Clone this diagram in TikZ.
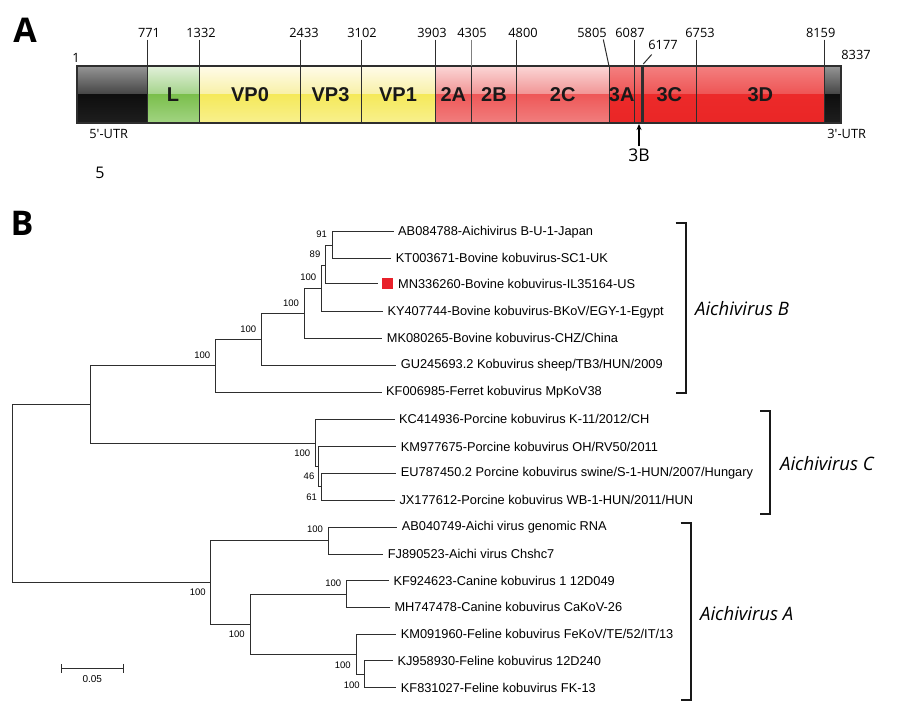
\documentclass[tikz,border=0pt]{standalone}
\usepackage{fontspec}
\setmainfont{Liberation Sans}
\newfontfamily\osans{Open Sans}
\usetikzlibrary{arrows.meta}
\definecolor{utrA}{HTML}{959595}
\definecolor{utrB}{HTML}{444444}
\definecolor{utrC}{HTML}{0E0E0E}
\definecolor{utrD}{HTML}{1E1E1E}
\definecolor{grA}{HTML}{E2F0DA}
\definecolor{grB}{HTML}{A4D38A}
\definecolor{grC}{HTML}{7BBF4C}
\definecolor{grD}{HTML}{A2D483}
\definecolor{yeA}{HTML}{FFFCEA}
\definecolor{yeB}{HTML}{F8F0A6}
\definecolor{yeC}{HTML}{F5E95A}
\definecolor{yeD}{HTML}{F8F08E}
\definecolor{pkA}{HTML}{FBD6D6}
\definecolor{pkB}{HTML}{F19494}
\definecolor{pkC}{HTML}{EE5858}
\definecolor{pkD}{HTML}{F17E7E}
\definecolor{rdA}{HTML}{F38080}
\definecolor{rdB}{HTML}{EE5454}
\definecolor{rdC}{HTML}{EC2A2A}
\definecolor{rdD}{HTML}{EA2626}
\definecolor{redmark}{HTML}{E8202A}
\definecolor{ink}{HTML}{2E2E2E}
\newcommand\gseg[6]{%
  \shade[top color=#3,bottom color=#4] (#1,66) rectangle (#2,94.5);
  \shade[top color=#5,bottom color=#6] (#1,94.5) rectangle (#2,123);}
\begin{document}
\begin{tikzpicture}[x=1pt,y=-1pt,
  tipl/.style={anchor=west,inner xsep=4.5pt,inner ysep=0pt,font=\fontsize{12.8}{14}\selectfont},
  bs/.style={font=\fontsize{9.5}{10}\selectfont,inner sep=0pt},
  brk/.style={line width=2.2pt,draw=black!90},
  branch/.style={line width=1pt,draw=ink},
  num/.style={font=\osans\fontsize{12.8}{14}\selectfont,inner sep=0pt},
  segl/.style={font=\bfseries\fontsize{20}{22}\selectfont,inner sep=0pt,text=black!90},
  clade/.style={font=\osans\itshape\fontsize{18.5}{20}\selectfont,anchor=west,inner sep=0pt},
  posline/.style={line width=1pt,draw=ink},
  panel/.style={font=\osans\bfseries\fontsize{34}{36}\selectfont,inner sep=0pt}]
\useasboundingbox (0,0) rectangle (900,710);
\fill[white] (0,0) rectangle (900,710);

% ---------------- Panel A ----------------
\node[panel] (pA) at (25,30) {A};
\gseg{77}{147}{utrA}{utrB}{utrC}{utrD}
\gseg{147}{199.3}{grA}{grB}{grC}{grD}
\gseg{199.3}{435}{yeA}{yeB}{yeC}{yeD}
\gseg{435}{609}{pkA}{pkB}{pkC}{pkD}
\gseg{609}{824.7}{rdA}{rdB}{rdC}{rdD}
\gseg{824.7}{841}{utrA}{utrB}{utrC}{utrD}
\draw[line width=1.3pt,draw=ink] (77,66) rectangle (841,123);
\foreach \x in {147,199.3,300,361,435,471.7,516.3,609,634.3,696,824.7}
  \draw[posline] (\x,66) -- (\x,123);
\draw[line width=2.6pt,draw=ink] (642.7,66) -- (642.7,123);
% position ticks above
\foreach \x in {147,199.3,300,361,435,516.3,634.3,696,824.7}
  \draw[posline] (\x,39.5) -- (\x,66);
\draw[posline,draw=black!50] (471.7,39.5) -- (471.7,66);
\draw[posline] (603.3,39.5) -- (609,66);
\draw[posline] (651.7,54.5) -- (643.3,64);
\node[num] (p1) at (76,58) {1};
\node[num] (p771) at (149,33) {771};
\node[num] (p1332) at (201,33) {1332};
\node[num] (p2433) at (304,33) {2433};
\node[num] (p3102) at (362,33) {3102};
\node[num] (p3903) at (432,33) {3903};
\node[num] (p4305) at (472,33) {4305};
\node[num] (p4800) at (523,33) {4800};
\node[num] (p5805) at (592,33) {5805};
\node[num] (p6087) at (630,33) {6087};
\node[num] (p6177) at (663,45) {6177};
\node[num] (p6753) at (700,33) {6753};
\node[num] (p8159) at (820.7,33) {8159};
\node[num] (p8337) at (856,55) {8337};
% segment labels
\node[segl] (sL) at (173,95) {L};
\node[segl] (sVP0) at (250,95) {VP0};
\node[segl] (sVP3) at (330.5,95) {VP3};
\node[segl] (sVP1) at (398,95) {VP1};
\node[segl] (s2A) at (453.3,95) {2A};
\node[segl] (s2B) at (494,95) {2B};
\node[segl] (s2C) at (562.7,95) {2C};
\node[segl] (s3A) at (621.7,95) {3A};
\node[segl] (s3C) at (669.3,95) {3C};
\node[segl] (s3D) at (760.3,95) {3D};
\node[num] (u5) at (108.7,133.5) {5'-UTR};
\node[num] (u3) at (846.7,133.5) {3'-UTR};
\node[font=\osans\fontsize{17.5}{19}\selectfont,inner sep=0pt] (l3B) at (639,155) {3B};
\coordinate (a3B) at (639,124);
\draw[line width=1.2pt,-{Stealth[length=6pt,width=5pt]}] (l3B.north) ++(0,-2) -- (a3B);
\node[font=\osans\fontsize{16}{18}\selectfont,inner sep=0pt] (five) at (100,173) {5};

% ---------------- Panel B ----------------
\node[panel] (pB) at (22,223) {B};
% tips
\node[tipl] (tAB) at (393.5,231.7) {AB084788-Aichivirus B-U-1-Japan};
\node[tipl] (tKT) at (391.2,258.3) {KT003671-Bovine kobuvirus-SC1-UK};
\node[fill=redmark,minimum size=11pt,inner sep=0pt,outer sep=4pt] (sq) at (387.5,283.8) {};
\node[tipl,inner xsep=1pt] (tMN) at (sq.east) {MN336260-Bovine kobuvirus-IL35164-US};
\node[tipl] (tKY) at (382.8,311.7) {KY407744-Bovine kobuvirus-BKoV/EGY-1-Egypt};
\node[tipl] (tMK) at (382.2,338.3) {MK080265-Bovine kobuvirus-CHZ/China};
\node[tipl] (tGU) at (396.2,365) {GU245693.2 Kobuvirus sheep/TB3/HUN/2009};
\node[tipl] (tKF6) at (381.5,392.3) {KF006985-Ferret kobuvirus MpKoV38};
\node[tipl] (tKC) at (394.5,419.3) {KC414936-Porcine kobuvirus K-11/2012/CH};
\node[tipl] (tKM) at (396.2,446.7) {KM977675-Porcine kobuvirus OH/RV50/2011};
\node[tipl] (tEU) at (396.2,473.3) {EU787450.2 Porcine kobuvirus swine/S-1-HUN/2007/Hungary};
\node[tipl] (tJX) at (394.8,500) {JX177612-Porcine kobuvirus WB-1-HUN/2011/HUN};
\node[tipl] (tAB4) at (397.2,527.3) {AB040749-Aichi virus genomic RNA};
\node[tipl] (tFJ) at (383.2,554) {FJ890523-Aichi virus Chshc7};
\node[tipl] (tKF9) at (388.8,580.7) {KF924623-Canine kobuvirus 1 12D049};
\node[tipl] (tMH) at (389.8,607.3) {MH747478-Canine kobuvirus CaKoV-26};
\node[tipl] (tKM0) at (396.2,634.3) {KM091960-Feline kobuvirus FeKoV/TE/52/IT/13};
\node[tipl] (tKJ) at (392.8,660.7) {KJ958930-Feline kobuvirus 12D240};
\node[tipl] (tKF8) at (396.2,687.7) {KF831027-Feline kobuvirus FK-13};
% internal nodes
\coordinate (n91) at (332.3,245);
\coordinate (n89) at (325.7,265);
\coordinate (nB4) at (321,288.4);
\coordinate (nB3) at (304,313.3);
\coordinate (nB2) at (261,339.2);
\coordinate (nB1) at (215,365.7);
\coordinate (nBC) at (90,404.5);
\coordinate (nC1) at (315,443.3);
\coordinate (nC2) at (318.3,466.7);
\coordinate (nC3) at (321.7,486.7);
\coordinate (nroot) at (12.5,493.6);
\coordinate (nA1) at (210.7,582.7);
\coordinate (nA2) at (328.3,540.7);
\coordinate (nA3) at (250,624.5);
\coordinate (nA4) at (346.7,594);
\coordinate (nA5) at (356,654.3);
\coordinate (nA6) at (364.3,674.2);
% branches
\draw[branch] (n91) |- (tAB.west);
\draw[branch] (n91) |- (tKT.west);
\draw[branch] (n89) |- (n91);
\draw[branch] (n89) |- (sq.west);
\draw[branch] (nB4) |- (n89);
\draw[branch] (nB4) |- (tKY.west);
\draw[branch] (nB3) |- (nB4);
\draw[branch] (nB3) |- (tMK.west);
\draw[branch] (nB2) |- (nB3);
\draw[branch] (nB2) |- (tGU.west);
\draw[branch] (nB1) |- (nB2);
\draw[branch] (nB1) |- (tKF6.west);
\draw[branch] (nBC) |- (nB1);
\draw[branch] (nBC) |- (nC1);
\draw[branch] (nC1) |- (tKC.west);
\draw[branch] (nC1) |- (nC2);
\draw[branch] (nC2) |- (tKM.west);
\draw[branch] (nC2) |- (nC3);
\draw[branch] (nC3) |- (tEU.west);
\draw[branch] (nC3) |- (tJX.west);
\draw[branch] (nroot) |- (nBC);
\draw[branch] (nroot) |- (nA1);
\draw[branch] (nA1) |- (nA2);
\draw[branch] (nA1) |- (nA3);
\draw[branch] (nA2) |- (tAB4.west);
\draw[branch] (nA2) |- (tFJ.west);
\draw[branch] (nA3) |- (nA4);
\draw[branch] (nA3) |- (nA5);
\draw[branch] (nA4) |- (tKF9.west);
\draw[branch] (nA4) |- (tMH.west);
\draw[branch] (nA5) |- (tKM0.west);
\draw[branch] (nA5) |- (nA6);
\draw[branch] (nA6) |- (tKJ.west);
\draw[branch] (nA6) |- (tKF8.west);
% bootstrap values
\node[bs] (b91) at (321.7,234) {91};
\node[bs] (b89) at (315,254) {89};
\node[bs] (bB4) at (308.3,277.7) {100};
\node[bs] (bB3) at (291,303.3) {100};
\node[bs] (bB2) at (248.3,329.3) {100};
\node[bs] (bB1) at (202.3,355) {100};
\node[bs] (bC1) at (302.3,453.3) {100};
\node[bs] (bC2) at (309,476.7) {46};
\node[bs] (bC3) at (311.7,497.3) {61};
\node[bs] (bA1) at (197.7,592.7) {100};
\node[bs] (bA2) at (315,529.3) {100};
\node[bs] (bA3) at (236.7,634.3) {100};
\node[bs] (bA4) at (333.3,583.3) {100};
\node[bs] (bA5) at (342.7,665) {100};
\node[bs] (bA6) at (351.7,685) {100};
% scale bar
\coordinate (sb1) at (60.7,668.3);
\coordinate (sb2) at (124,668.3);
\draw[branch,{Bar[width=9pt]}-{Bar[width=9pt]}] (sb1) -- (sb2);
\node[font=\fontsize{10}{11}\selectfont,inner sep=0pt] (sbl) at (92.3,679.5) {0.05};
% clade brackets
\draw[brk] (675.7,222.7) -- (685.7,222.7) -- (685.7,393.3) -- (675.7,393.3);
\node[clade] (cB) at (695,308.3) {Aichivirus B};
\draw[brk] (760,410.7) -- (770,410.7) -- (770,514) -- (760,514);
\node[clade] (cC) at (780,463.3) {Aichivirus C};
\draw[brk] (680.7,523.3) -- (690.7,523.3) -- (690.7,700) -- (680.7,700);
\node[clade] (cA) at (700,614) {Aichivirus A};
\end{tikzpicture}
\end{document}
